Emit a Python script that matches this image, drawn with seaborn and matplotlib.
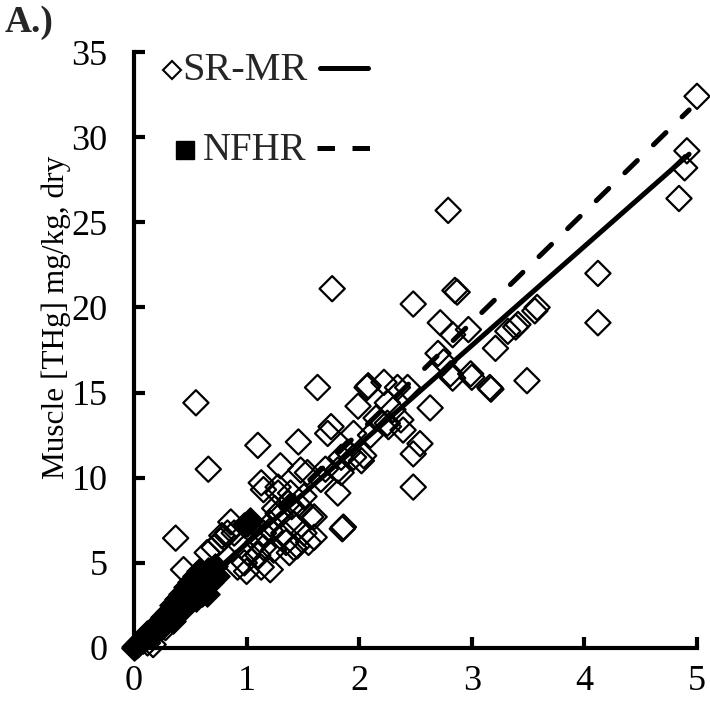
import matplotlib
matplotlib.use("Agg")
import matplotlib.pyplot as plt
import seaborn as sns

# SR-MR (open diamonds)
sr_x = [0.01, 0.03, 0.05, 0.08, 0.10, 0.12, 0.15, 0.17, 0.20, 0.22, 0.25, 0.28, 0.30, 0.33, 0.36, 0.40,
        0.44, 0.37, 0.45, 0.50, 0.55, 0.66, 0.65, 0.71, 0.77, 0.80, 0.83, 0.86, 0.78, 0.89,
        0.92, 0.98, 1.00, 1.13, 1.10, 1.01, 1.21, 1.24, 1.10, 1.15, 1.21, 1.33, 1.42, 1.15, 1.21,
        1.28, 1.15, 1.37, 1.42, 1.51, 1.60, 1.51, 1.28, 1.13, 1.30, 1.48, 1.10, 1.46, 1.66, 1.84,
        1.84, 1.81, 1.86, 1.63, 1.72, 1.75, 1.99, 1.95, 2.04, 2.07, 2.22, 2.26, 2.30, 2.39, 2.48,
        2.54, 2.48, 2.63, 2.43, 2.25, 1.76, 2.48, 2.85, 2.87, 2.72, 2.83, 2.97, 2.70, 2.75, 2.81,
        2.99, 3.00, 2.83, 2.79, 3.16, 3.17, 3.49, 3.21, 3.32, 3.39, 3.41, 3.58, 3.56, 4.12, 4.12,
        4.84, 4.89, 4.91, 5.00, 2.08, 2.34, 2.37, 2.25, 1.95, 2.02, 1.81, 1.85, 1.39, 1.54, 1.48,
        1.57, 1.28, 1.30, 1.40, 1.35, 1.45, 1.55, 1.70, 1.90, 2.10, 2.15, 1.25, 1.38, 1.60, 0.95]
sr_y = [0.05, 0.15, 0.30, 0.40, 0.60, 0.30, 0.80, 0.20, 1.00, 1.30, 1.50, 1.20, 1.80, 2.10, 2.40, 2.50,
        4.60, 6.45, 2.90, 3.20, 14.4, 10.5, 5.60, 5.90, 6.30, 6.50, 6.75, 7.40, 6.60, 6.75,
        4.75, 5.00, 4.50, 4.75, 5.45, 5.60, 4.60, 5.75, 6.20, 6.75, 7.30, 6.75, 5.90, 5.90, 6.90,
        9.10, 9.30, 8.50, 7.30, 6.75, 7.70, 8.90, 9.45, 9.70, 10.7, 10.45, 11.9, 12.1, 9.90, 11.2,
        10.3, 9.10, 7.10, 15.3, 12.6, 13.0, 14.2, 12.6, 11.3, 15.3, 15.6, 13.0, 14.0, 12.8, 11.4,
        12.0, 9.45, 14.1, 15.3, 14.4, 21.1, 20.2, 21.0, 20.9, 19.1, 18.4, 18.7, 17.3, 16.8, 16.1,
        16.1, 15.9, 15.85, 25.7, 15.3, 15.2, 15.7, 17.6, 18.6, 18.85, 19.0, 20.0, 19.8, 22.0, 19.1,
        26.4, 28.2, 29.2, 32.4, 15.4, 15.3, 13.4, 13.2, 11.2, 11.0, 10.45, 7.0, 9.1, 10.3, 8.3,
        7.7, 7.9, 7.8, 8.3, 6.2, 6.0, 6.2, 10.5, 11.5, 12.5, 13.5, 8.2, 5.6, 6.5, 6.0]

# NFHR (filled diamonds)
nf_x = [0.00, 0.02, 0.04, 0.06, 0.08, 0.10, 0.12, 0.14, 0.16, 0.18, 0.20, 0.22, 0.24, 0.26, 0.28,
        0.30, 0.32, 0.34, 0.36, 0.38, 0.40, 0.42, 0.44, 0.46, 0.48, 0.50, 0.52, 0.54, 0.56, 0.58,
        0.60, 0.62, 0.64, 0.66, 0.68, 0.70, 0.72, 0.74, 0.55, 0.65, 0.45, 0.35, 1.00, 1.03, 0.98]
nf_y = [0.00, 0.10, 0.25, 0.40, 0.60, 0.50, 0.90, 0.70, 1.10, 0.90, 1.30, 1.50, 1.20, 1.80, 1.60,
        2.10, 1.90, 2.50, 2.20, 2.90, 2.60, 3.20, 2.80, 3.60, 3.00, 3.90, 3.30, 4.20, 3.50, 4.50,
        3.20, 4.10, 3.70, 4.60, 3.90, 4.40, 4.80, 4.20, 2.90, 3.20, 2.40, 1.60, 7.30, 7.50, 7.20]

# fitted trend lines (end points)
srmr_fit_x = [0.0, 4.93]
srmr_fit_y = [0.3, 29.0]
nfhr_fit_x = [0.04, 4.93]
nfhr_fit_y = [0.0, 31.6]

x_ticks = [0, 1, 2, 3, 4, 5]
y_ticks = [0, 5, 10, 15, 20, 25, 30, 35]

sns.set_theme(style="ticks")
plt.rcParams['font.family'] = ['Liberation Serif', 'DejaVu Serif']

fig = plt.figure(figsize=(7.1, 7.12), dpi=100)
ax = fig.add_axes([0.1887, 0.0899, 0.793, 0.837])

sns.scatterplot(x=sr_x, y=sr_y, marker='D', s=165, facecolor='none', edgecolor='black',
                linewidth=1.6, ax=ax, zorder=3, clip_on=False)
sns.scatterplot(x=nf_x, y=nf_y, marker='D', s=165, color='black', edgecolor='black',
                linewidth=1.0, ax=ax, zorder=4, clip_on=False)
sns.lineplot(x=srmr_fit_x, y=srmr_fit_y, color='black', linewidth=3.6, ax=ax, zorder=5,
             solid_capstyle='round')
sns.lineplot(x=nfhr_fit_x, y=nfhr_fit_y, color='black', linewidth=3.6, ax=ax, zorder=5,
             linestyle=(0, (3.5, 4.5)), dash_capstyle='round')

ax.set_xlim(0, 5)
ax.set_ylim(0, 35)
ax.set_xticks(x_ticks)
ax.set_yticks(y_ticks)
ax.set_xticklabels([str(t) for t in x_ticks])
ax.set_yticklabels([str(t) for t in y_ticks])
sns.despine(ax=ax)
for s in ['left', 'bottom']:
    ax.spines[s].set_linewidth(3)
    ax.spines[s].set_color('black')
ax.tick_params(axis='both', direction='in', length=8, width=3, color='black',
               labelsize=26, labelcolor='black')
ax.tick_params(axis='x', pad=12)
ax.tick_params(axis='y', pad=19)
ax.set_ylabel('Muscle [THg] mg/kg, dry', fontsize=22.5, color='black')
ax.yaxis.set_label_coords(-0.112, 0.555)
ax.set_xlabel('')

# legend (manual, as in the original)
fig.text(5 / 710, 1 - 22 / 712, 'A.)', fontsize=27, fontweight='bold', va='center', ha='left')
ax.plot([172 / 710], [1 - 70 / 712], marker='D', ms=9, mfc='none', mec='black', mew=1.5,
        transform=fig.transFigure, clip_on=False)
fig.text(182 / 710, 1 - 70 / 712, 'SR-MR', fontsize=29, va='center', ha='left')
ax.plot([320 / 710, 368 / 710], [1 - 68 / 712, 1 - 68 / 712], color='black', lw=3.6,
        transform=fig.transFigure, clip_on=False)
ax.plot([185 / 710], [1 - 150 / 712], marker='s', ms=13, mfc='black', mec='black',
        transform=fig.transFigure, clip_on=False)
fig.text(203 / 710, 1 - 150 / 712, 'NFHR', fontsize=28, va='center', ha='left')
ax.plot([317 / 710, 372 / 710], [1 - 148 / 712, 1 - 148 / 712], color='black', lw=3.6,
        linestyle=(0, (3.5, 3.5)), transform=fig.transFigure, clip_on=False)

fig.savefig('out.png', dpi=100)
